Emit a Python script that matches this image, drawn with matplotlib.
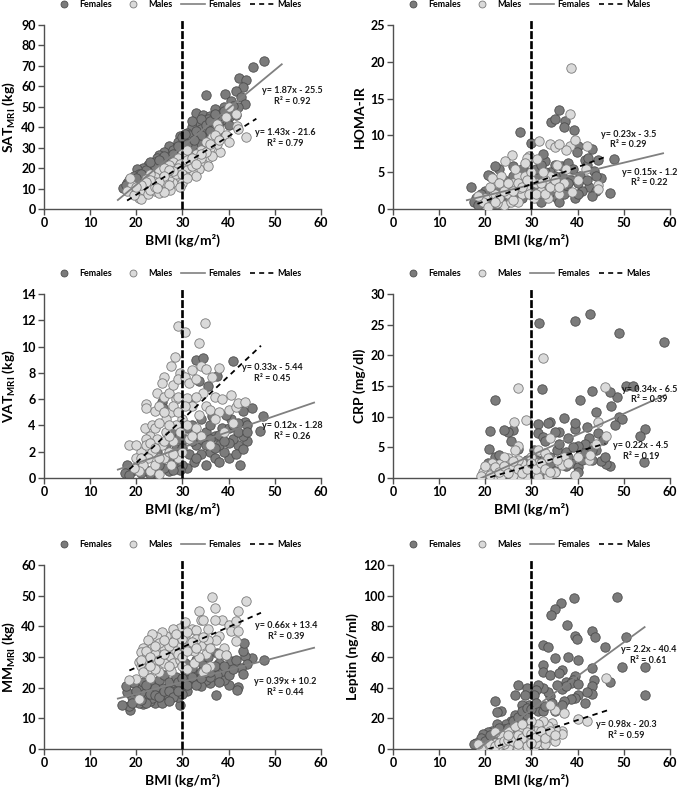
import numpy as np
import matplotlib
matplotlib.use("Agg")
import matplotlib.pyplot as plt
from matplotlib.lines import Line2D
from matplotlib.legend_handler import HandlerLine2D

plt.rcParams['font.family'] = ['Lato', 'DejaVu Sans']
plt.rcParams['font.weight'] = 'bold'
plt.rcParams['mathtext.fontset'] = 'custom'
plt.rcParams['mathtext.rm'] = 'Lato:bold'
plt.rcParams['mathtext.bf'] = 'Lato:bold'

# ---- data (BMI, value) ----
sat_f = [(47.7, 72.5), (45.2, 69.7), (42.3, 64.3), (43.7, 63), (43.2, 59.5), (35, 56), (39.3, 56.5), (41.5, 57.5),
         (42.7, 55), (40.5, 53), (43.5, 51.5), (42, 50), (39, 50), (37, 49), (33, 47), (34.5, 46), (36, 45.5),
         (38.5, 47), (40, 45), (41.5, 46), (35.5, 44), (33.5, 42), (32, 40), (34, 39), (36.5, 40), (38, 42),
         (39.5, 43.5), (37, 38), (35, 37), (31, 37), (29.5, 35.5), (33, 35), (31.5, 33), (30.5, 31), (28.5, 30.5),
         (27, 31), (32.5, 30), (34, 32.5), (36, 35.5), (29, 28), (27.5, 27), (26, 28), (25, 26.5), (24.5, 25),
         (26.5, 24.5), (28, 25), (23.5, 22), (22.5, 21.5), (21.5, 20), (20.2, 19.8), (22, 18), (23, 19), (24, 20),
         (25.5, 22), (20.5, 17), (19.5, 16), (18.5, 14), (18, 12.5), (17.2, 10.3), (19, 11), (21, 14.5), (17.8, 12),
         (19.8, 8), (26, 23), (30, 33), (31, 28), (33.5, 28), (35, 30.5), (37.5, 36), (40.5, 48), (36.5, 41),
         (38, 44), (34, 44), (31.5, 36), (28, 29), (29, 33), (32, 43), (30, 35), (27, 25.5), (24, 23),
         (30, 30), (31, 32), (29, 31), (28, 27), (26, 26), (24, 21), (22, 19), (21, 17), (20, 15), (23, 23),
         (25, 24), (33, 38), (34, 36), (35, 41), (36, 43), (38, 45.5), (37, 46.5), (39, 48), (41, 50.5), (40, 41),
         (36, 38), (32.5, 34), (30.5, 36.5)]
sat_m = [(43.7, 35.3), (41.7, 40.8), (42, 39), (41.5, 46.5), (40, 50), (39.5, 45), (37.5, 41.5), (38, 39),
         (39.5, 36), (36.5, 35), (38.2, 28), (40, 33), (35, 33), (37.5, 32), (36, 30), (34, 29), (33, 27), (35.5, 25),
         (34.5, 22), (35.5, 21), (33.5, 19.5), (32, 18.5), (31, 20), (30.5, 23.5), (32.5, 23), (34, 25), (31.5, 26),
         (30, 27), (29, 25), (28, 23), (28.5, 20), (27, 21.5), (26, 18), (25, 19), (25.5, 15), (24, 15.5), (23, 17),
         (22, 14.5), (23.5, 12), (22, 11), (21, 10), (20, 9.5), (21, 8), (20.5, 5.5), (21, 5), (22.5, 7.5), (24, 9),
         (25, 11), (26.5, 10), (27.3, 9.5), (28, 13), (29.5, 15.5), (29, 18), (27, 15), (26, 13), (24, 13), (19, 12),
         (18.7, 15), (18, 9), (19.5, 7), (30.5, 16), (32, 21), (33, 16), (30, 12.5), (36.5, 26), (35, 28), (22, 12),
         (26, 20), (27.5, 18), (29.5, 22), (31, 29), (23, 9.5), (25, 8), (28.5, 17),
         (29, 20), (28, 18.5), (27, 19), (26, 16), (25, 13), (24, 11), (23, 14), (22, 13), (21, 12), (20, 11),
         (31, 24), (32, 25), (33, 22), (34, 27), (30, 17), (31, 15), (29.5, 11), (27, 12), (26, 8.5), (24.5, 10.5),
         (36, 32), (37, 36), (38, 34)]

homa_f = [(27.6, 10.4), (30, 9.0), (34.2, 11.8), (35, 12.2), (36, 13.5), (37.2, 11.9), (37, 11.2), (39.2, 10.7),
          (40, 8.5), (39.8, 7.8), (41.5, 6.6), (43, 8.2), (47.8, 6.8), (46.9, 2.2), (45, 4.2), (43.5, 5.2), (42.5, 3.0),
          (44, 2.5), (39.5, 1.5), (38, 2.5), (36, 3.8), (35, 6), (34, 5), (33, 6.5), (32.5, 7.5), (31.5, 4.5), (30.5, 3),
          (32, 1), (34, 2), (36.5, 5.8), (38, 6.2), (40.5, 4.5), (41, 2.5), (42, 6), (37, 2), (33, 3), (31, 5.5), (29, 5),
          (28, 3.5), (27, 4), (26, 5.8), (25, 3), (24, 2), (23, 5.5), (22, 5.8), (21, 4.5), (20.5, 4.6), (20, 2.5),
          (19, 2), (18, 1.5), (17, 3), (17.5, 1), (18.5, 0.5), (21, 1), (22, 0.5), (23, 1.5), (25, 1), (26.5, 2),
          (28, 1.5), (29, 2.5), (24, 4), (21.5, 3), (38.5, 4), (44.5, 6.6), (35.5, 1.5), (39, 5.5), (42.2, 7),
          (36.6, 4.5), (43, 1.8), (37.5, 3.2), (40, 3.5),
          (30, 2), (31, 2.5), (33, 5), (35, 4.5), (36, 1), (38, 3.5), (40, 2), (42, 4), (44, 4.5), (32, 6),
          (34, 3.5), (20, 1), (23, 3), (26, 4.5), (28, 5.5)]
homa_m = [(38.5, 19.2), (38.3, 12.9), (38.3, 8.5), (37.5, 8.0), (34, 8.8), (35, 8.4), (36, 8.8), (31.7, 9.2),
          (29.5, 7.2), (29, 7.0), (25.7, 7.4), (24.3, 6.5), (28.5, 6.2), (39.5, 9.4), (42, 8.5), (41.7, 5.5),
          (44.5, 3.2), (44.5, 2.7), (40, 4), (37, 3.5), (35, 3), (34, 4.5), (33, 4), (32, 2.5), (31, 3.5), (30.5, 1.5),
          (29, 3), (28, 2), (27, 4.5), (26, 3.5), (25, 2), (24, 0.5), (23.5, 4.5), (22.5, 3.5), (22, 2), (21, 3),
          (20, 1.5), (19.5, 1), (18.5, 1.8), (20.5, 0.3), (22.5, 0.8), (25.5, 1), (27, 1), (28.5, 4.5), (30, 5),
          (32.5, 5), (36, 2), (37.5, 5.5), (38.8, 2.3), (33.5, 1.5), (31.3, 6.8), (26.5, 5.5), (24, 3), (35.5, 6),
          (29.5, 2), (23, 1.5), (21.5, 4.2), (27.5, 2.8), (26, 1.2),
          (30, 4), (31, 2), (32, 3.5), (33, 2), (34, 3), (35, 4), (36, 3), (22, 1), (23, 3.5), (24, 2.5),
          (25, 3.5), (26, 2.5), (27, 3.5), (28, 3), (29, 4)]

vat_f = [(33, 9.0), (34.5, 9.1), (41, 8.9), (37.5, 7.8), (35.5, 7.0), (33.5, 7.4), (25.5, 5.8), (25.8, 5.3),
         (47.5, 4.7), (46.8, 3.6), (45, 5.3), (43.5, 4.3), (43, 5.1), (42.5, 1.0), (35, 1.0), (44, 2.8), (43, 3.2),
         (42, 2.5), (41, 3.0), (40, 1.5), (39, 2.0), (38, 2.5), (37, 3.2), (36, 2.0), (35, 3.5), (34, 1.8), (33, 2.5),
         (32.5, 1.2), (31.5, 1.8), (31, 0.8), (30, 1.0), (29.5, 0.6), (28, 1.2), (27, 0.5), (26, 0.8), (25, 1.0),
         (24, 0.3), (23, 0.3), (22, 0.6), (21, 0.4), (20, 0.8), (19, 0.5), (18, 1.0), (17.5, 0.4), (18.5, 0.2),
         (26.5, 2.5), (27.5, 3.5), (28.5, 2.2), (30.5, 3.0), (32, 4.0), (34, 4.5), (36.5, 4.7), (38.5, 3.8),
         (40.5, 4.5), (41.5, 1.8), (39.5, 4.8), (44, 4.0), (29, 3.0), (24.5, 2.0), (31.5, 5.8), (37, 1.5), (42, 3.5),
         (40, 2.7), (33.5, 3.2), (38, 1.2), (36, 3.0),
         (30, 2.3), (31, 3.8), (32, 2.8), (33, 1.5), (34, 3.0), (35, 2.5), (36, 4.0), (37, 2.3), (38, 3.3),
         (39, 2.8), (40, 3.8), (41, 4.0), (42, 4.2), (43, 2.2), (44, 3.5), (29, 1.8), (27, 1.5), (28, 0.6)]
vat_m = [(29, 11.6), (30.5, 11.1), (34.8, 11.8), (33.5, 10.3), (28.3, 9.2), (29.5, 8.0), (27.5, 8.5), (26, 7.7),
         (25.5, 7.2), (24.5, 6.5), (22, 5.6), (22.2, 5.3), (18.5, 2.5), (21.8, 3.8), (23, 3.2), (24, 5.1), (25, 5.5),
         (26, 6.2), (27, 6.5), (28, 7.1), (29, 7.5), (30.5, 7.7), (31.5, 7.2), (32, 8.2), (33, 7.5), (34, 8.5),
         (35.2, 8.3), (36.5, 7.7), (38, 8.4), (37, 6.2), (34.5, 6.5), (35, 5.5), (33.5, 4.8), (32, 5.5), (31, 6.1),
         (36, 5.2), (38, 5.0), (40, 5.2), (40.5, 6.3), (41.5, 5.4), (42, 5.7), (43.5, 5.8), (41, 4.2), (39, 3.5),
         (37, 4.5), (33, 3.8), (31.5, 3.0), (30, 4.5), (28.5, 4.0), (27.5, 5.0), (26.5, 3.5), (25.5, 2.5), (24.5, 3.0),
         (23.5, 2.0), (22.5, 1.5), (21.5, 1.0), (20.5, 0.5), (19.5, 0.8), (21, 2.0), (20, 1.5), (23, 0.5), (24, 1.0),
         (25, 0.3), (26, 1.5), (27, 2.0), (28, 2.8), (29, 1.5), (29.5, 3.5), (30, 2.0), (27.5, 1.0), (26.5, 4.5),
         (23.5, 4.0), (22, 3.0), (34, 3.2), (36, 2.5), (38.5, 6.0), (28.5, 6.0), (30.5, 5.5),
         (22, 2.5), (23, 2.7), (24, 3.8), (25, 4.2), (26, 5.0), (27, 4.0), (28, 5.5), (29, 6.2), (25, 1.5),
         (26, 2.8), (27, 3.2), (28, 1.8), (29, 5.0), (24, 2.3), (21, 1.5), (20, 2.5), (31, 4.0), (32, 3.2), (33, 6.2)]

crp_f = [(22.2, 12.8), (31.7, 25.3), (32.3, 14.5), (39.5, 25.6), (42.7, 26.7), (48.9, 23.7), (58.8, 22.1),
         (50.5, 15.0), (52, 15.0), (48.5, 13.2), (47, 14.0), (47.2, 11.8), (43, 14.2), (44, 10.8), (40.5, 12.8),
         (49, 10.0), (49.7, 9.7), (48, 8.7), (54.5, 8.0), (53.5, 6.8), (54.3, 2.6), (47, 2.0), (46.2, 2.3), (45, 2.8),
         (44.5, 7.4), (45.5, 6.2), (42, 8.3), (42.5, 6.5), (41.5, 5.5), (40, 5.3), (39.5, 8.0), (39.5, 9.0), (37, 9.8),
         (36, 7.5), (35, 7.5), (34, 9.1), (33.5, 9.0), (31.5, 8.8), (31.5, 7.3), (32.5, 6.7), (33, 6.0), (35.5, 4.5),
         (37.5, 4.3), (38.5, 2.5), (40, 1.8), (40, 1.0), (41, 2.9), (43, 3.0), (36.5, 2.5), (34, 2.0), (32.5, 3.0),
         (30.5, 4.5), (29, 3.0), (27, 4.8), (26, 7.8), (25, 7.5), (25.5, 6.0), (24, 7.8), (21, 7.6), (20.8, 4.8),
         (22, 3.5), (23, 3.7), (24.5, 2.5), (20, 1.5), (19.5, 0.5), (21, 0.8), (22.5, 1.5), (25, 0.5), (27.5, 1.2),
         (28.5, 0.3), (30.5, 0.5), (33, 0.8), (35, 1.2), (41.5, 4.0), (38, 6.5), (37.5, 2.0), (44, 4.5), (46, 3.5),
         (20.5, 2.5), (22, 0.8), (23.5, 1.8), (26, 2), (28, 2), (30, 1.5), (31, 3), (34, 3.5), (36, 5.5),
         (38, 3.5), (39, 5), (43, 4.5)]
crp_m = [(27, 14.6), (32.4, 19.6), (46, 14.9), (44.5, 9.2), (46.2, 6.9), (44, 5.5), (42.5, 3.0), (42.7, 3.8),
         (39.5, 0.5), (26.2, 9.2), (28.8, 9.4), (27, 5.2), (26.5, 4.6), (31.5, 4.5), (33, 4.0), (33.5, 3.2), (34, 6.5),
         (37, 3.5), (36.5, 2.2), (35, 1.0), (33.5, 0.3), (32, 1.5), (31, 2.5), (30, 3.5), (29.5, 2.0), (28.5, 1.2),
         (28, 2.5), (27.5, 0.5), (26.5, 1.5), (25.5, 2.0), (25, 3.3), (24.5, 1.0), (24, 3.5), (23, 2.3), (22.5, 1.2),
         (22, 0.5), (21.5, 2.5), (21, 1.5), (20.5, 0.8), (19.5, 1.0), (19, 0.3), (20, 2.0), (23.5, 0.3), (26, 0.5),
         (29, 0.5), (30.5, 1.0), (31.5, 0.2), (27, 3.0), (35.5, 3.0), (38, 2.5), (40, 3.5),
         (21, 0.5), (22, 1.8), (23, 1), (24, 2), (25, 0.8), (26, 2.7), (27, 1.5), (28, 0.8), (29, 1.5),
         (30, 2.5), (31, 1.5), (32, 2.5), (33, 1.5), (34, 1)]

mm_f = [(47.7, 29.1), (45, 29.7), (43.5, 30.3), (43, 31.8), (43.3, 34.7), (44, 27.7), (42.7, 26.5), (43, 24.5),
        (42, 20.3), (41.8, 19.4), (40, 21), (39, 22.5), (38.5, 25.5), (40.5, 28.8), (41.5, 29), (39.5, 30.5),
        (37.5, 31.2), (38, 28), (37.2, 17.5), (36, 21.5), (35, 22.5), (34, 20.5), (33, 24), (32.5, 21.5), (31.5, 23),
        (30.5, 25.5), (30.5, 28), (33, 29), (34.5, 27.5), (35.5, 30), (36.5, 26), (37.5, 24), (29.5, 14.5), (29, 17),
        (28, 19.5), (27.5, 21.5), (26.5, 18), (26, 16), (25.5, 20), (25, 22.5), (24.5, 17), (24, 15), (23, 15.5),
        (22.5, 19), (22, 17), (21.5, 14.8), (21, 18.5), (20.5, 20.5), (20, 16.5), (19, 17), (18.7, 12.8), (18.5, 14),
        (17, 14.3), (18, 18.5), (17.8, 20.5), (19.5, 21.5), (23, 21.5), (24, 20), (26, 24), (27, 22), (28.5, 23.5),
        (30, 20.5), (31, 19), (32, 26.5), (34, 25), (36, 23.5), (29, 22), (20.5, 15), (23.5, 16.5), (25.5, 15),
        (27, 17), (21.5, 22), (30, 18),
        (22, 15), (23, 18), (24, 17.5), (25, 17), (26, 19), (27, 19), (28, 17), (29, 19), (30, 23), (31, 21),
        (32, 23.5), (33, 21), (34, 23), (35, 25), (36, 25), (37, 27), (38, 22), (39, 27), (40, 24), (41, 26),
        (19, 15), (20, 19), (21, 16), (22, 21), (27, 15.5)]
mm_m = [(36.5, 49.5), (43.7, 48.1), (37, 46), (33.5, 45), (42, 45), (34, 42), (34.5, 42.2), (38.5, 42), (37, 42.2),
        (29.5, 39.5), (30.5, 41.5), (28, 39), (32, 39), (33, 38.8), (35.5, 39), (40, 40.5), (40.5, 38.5), (42, 38.5),
        (41.5, 41.7), (38, 37), (37.3, 35.5), (41.5, 35.3), (39, 33), (38, 31), (39.5, 30.5), (35, 31), (34, 34),
        (35.5, 35.5), (33, 36), (31.5, 35), (30.5, 33), (29, 34), (27.5, 35), (26.5, 37), (25.5, 38), (24.5, 36.5),
        (23.5, 37.5), (22.5, 35.5), (21.5, 33), (21, 31.5), (22, 30), (20.5, 28.5), (21, 27), (22.5, 26), (21.5, 25),
        (20, 22.8), (18.5, 22.5), (20.5, 16.2), (23, 23), (24, 28), (25, 31), (26, 33), (27, 30), (28, 28), (28.5, 32),
        (29.5, 29), (30, 27), (31, 26), (32.5, 28), (33.5, 30), (34.5, 25), (36, 27), (35, 26.5), (27.5, 25.5),
        (25, 25), (26, 28), (23.5, 33), (24, 31), (30, 36), (31, 38), (32.5, 32), (22.5, 29), (27, 33.5), (25, 34.5),
        (22, 32), (23, 30), (24, 33.5), (25, 29), (26, 31), (27, 27), (28, 35), (29, 31), (30, 30), (31, 32),
        (32, 35), (33, 33), (24, 26), (23, 27), (26, 35.5), (28.5, 37.5), (21, 29), (34.5, 36.5), (36, 33)]

lep_f = [(48.5, 99), (39.2, 98.5), (36.3, 95.5), (35, 91.5), (34.2, 87.3), (37.7, 81), (39.5, 74), (39.8, 71.5),
         (43, 77), (43.7, 73), (46, 66.5), (50.5, 73), (49.5, 53.5), (54.5, 53.5), (54.5, 35), (47, 43.5), (43, 53),
         (43.5, 45), (43, 41), (43, 36), (41.5, 30), (40, 58), (39.5, 47.5), (39, 45), (38, 60), (36.5, 51.5),
         (35, 59.5), (32.5, 68), (33.5, 66.5), (32.5, 54.5), (32.5, 50.5), (34, 48), (36, 49.5), (37.5, 43.5),
         (38.5, 43), (40, 42.5), (40, 35.5), (39.5, 33), (38.5, 32.5), (37, 31), (36.5, 28.5), (35, 25), (34, 34.5),
         (33.5, 37.5), (32.5, 40), (31.5, 41.5), (31, 38.5), (30.5, 35.5), (31.5, 25), (32.5, 24.5), (29, 39.5),
         (28.5, 35.5), (29.5, 29), (28, 28.5), (27, 42), (26.5, 35.5), (26.5, 22), (25.5, 18), (24.5, 16.5), (23.5, 25),
         (22.5, 24), (22, 31.5), (22.5, 16), (21.5, 12), (20.5, 11), (20.5, 8), (19.5, 9.5), (19, 7), (18, 4),
         (17.5, 3.5), (21, 5), (23, 10), (24, 13), (25, 10), (26, 13), (27, 16.5), (28, 20.5), (29, 22), (30, 16),
         (28.5, 13), (36.5, 39), (34.5, 30), (42, 37), (37.5, 41), (35.5, 42),
         (22, 8), (23, 14), (24, 10), (25, 14), (26, 18), (27, 21), (28, 25), (29, 27), (30, 26), (31, 30),
         (33, 28), (20, 5), (21, 9)]
lep_m = [(46.2, 46.5), (37, 23.5), (40, 19.5), (42, 18.5), (36.5, 11.5), (36.7, 9.5), (35, 25.5), (34, 28.5),
         (34.5, 17), (35, 13), (33.5, 15), (33, 10), (32.5, 18.5), (31.5, 16), (31, 12), (30.5, 7), (32, 6), (34, 8),
         (35, 5), (30, 18.5), (29.5, 13), (29, 8), (28.5, 5), (28, 10), (27.5, 14), (27, 6), (26.5, 2.5), (26, 8),
         (25.5, 4), (25, 1.5), (24.5, 7), (24, 3), (23.5, 5.5), (23, 2), (22.5, 0.5), (22, 4), (21.5, 1.5), (21, 0.3),
         (20.5, 2.5), (20, 0.5), (19.5, 1), (19, 0.3), (18.5, 3), (29, 2), (30.5, 1.5), (27, 0.5), (33, 3.5), (31, 4),
         (25, 12), (26.5, 15), (28, 16.5), (23.5, 9), (22, 11),
         (21, 3), (22, 2), (23, 4), (24, 5), (25, 6), (26, 5), (27, 9), (28, 7), (29, 11), (30, 10), (31, 8),
         (32, 12), (33, 7), (34, 12), (35, 9), (30, 4), (27, 3), (25, 9)]

# trendlines: slope, intercept, x range
fits_f = [(1.87, -25.5, 16, 51.5), (0.15, -1.2, 16, 58.5), (0.12, -1.28, 16, 58.5),
          (0.34, -6.5, 19.1, 59), (0.39, 10.2, 16, 58.5), (2.2, -40.4, 18.4, 54.5)]
fits_m = [(1.43, -21.6, 18, 46), (0.23, -3.5, 18.3, 46), (0.33, -5.44, 18.5, 47),
          (0.22, -4.5, 19, 46), (0.66, 13.4, 18.5, 47), (0.98, -20.3, 20.7, 46.5)]
r2_f = ['0.92', '0.22', '0.26', '0.39', '0.44', '0.61']
r2_m = ['0.79', '0.29', '0.45', '0.19', '0.39', '0.59']

ylabels = ['SAT$_{\\rm MRI}$ (kg)', 'HOMA-IR', 'VAT$_{\\rm MRI}$ (kg)', 'CRP (mg/dl)',
           'MM$_{\\rm MRI}$ (kg)', 'Leptin (ng/ml)']
ymax = [90, 25, 14, 30, 60, 120]
ystep = [10, 5, 2, 5, 10, 20]
females = [sat_f, homa_f, vat_f, crp_f, mm_f, lep_f]
males = [sat_m, homa_m, vat_m, crp_m, mm_m, lep_m]

# where the equations sit (data coords)
eq_pos_f = [(53.7, 55.3), (55.5, 4.3), (53.7, 3.6), (55.5, 13.6), (52.2, 20.2), (55.3, 61.3)]
eq_pos_m = [(52.2, 34.6), (51.0, 9.45), (49.5, 8.0), (53.7, 4.4), (52.5, 38.4), (50.6, 12.5)]


def eq_text(a, b, r2):
    sign = '+' if b >= 0 else '-'
    return 'y= %gx %s %g\nR\u00b2 = %s' % (a, sign, abs(b), r2)


class MarkerRight(HandlerLine2D):
    # put the circle next to its label, as Excel does
    def get_xdata(self, legend, xdescent, ydescent, width, height, fontsize):
        xd, _ = super().get_xdata(legend, xdescent, ydescent, width, height, fontsize)
        return xd, np.array([width - xdescent - 0.3 * fontsize])


fig = plt.figure(figsize=(6.85, 7.9), dpi=100)
lefts = [0.0642, 0.5737]
bottoms = [0.7354, 0.3949, 0.0519]
fcol, fedge = '#7b7b7b', '#4d4d4d'
mcol, medge = '#dadada', '#7a7a7a'

for i in range(6):
    ax = fig.add_axes([lefts[i % 2], bottoms[i // 2], 0.4044, 0.2329])
    f = np.array(females[i])
    m = np.array(males[i])
    ax.scatter(f[:, 0], f[:, 1], s=46, c=fcol, edgecolors=fedge, linewidths=0.6, zorder=2)
    ax.scatter(m[:, 0], m[:, 1], s=46, c=mcol, edgecolors=medge, linewidths=0.6, zorder=3)

    a, b, x0, x1 = fits_f[i]
    xs = np.array([x0, x1])
    ax.plot(xs, a * xs + b, color='#808080', lw=1.3, zorder=4)
    a2, b2, x2, x3 = fits_m[i]
    xs2 = np.array([x2, x3])
    ax.plot(xs2, a2 * xs2 + b2, color='black', lw=1.3, dashes=(3, 2.5), zorder=4)

    ax.plot([30, 30], [0, ymax[i] * 1.025], color='black', lw=1.9, dashes=(3, 0.8),
            zorder=5, clip_on=False)

    ax.text(*eq_pos_f[i], eq_text(a, b, r2_f[i]), fontsize=6.5, ha='center', va='center',
            fontweight='bold', color='#1a1a1a', linespacing=1.25, zorder=6)
    ax.text(*eq_pos_m[i], eq_text(a2, b2, r2_m[i]), fontsize=6.5, ha='center', va='center',
            fontweight='bold', color='#1a1a1a', linespacing=1.25, zorder=6)

    ax.set_xlim(0, 60)
    ax.set_ylim(0, ymax[i])
    ax.set_xticks(range(0, 61, 10))
    ax.set_yticks(np.arange(0, ymax[i] + 0.1, ystep[i]))
    for s in ['top', 'right']:
        ax.spines[s].set_visible(False)
    for s in ['left', 'bottom']:
        ax.spines[s].set_color('#505050')
        ax.spines[s].set_linewidth(1.0)
    ax.tick_params(direction='out', length=4, width=1, color='#505050', labelsize=9, pad=2)
    for lab in ax.get_xticklabels() + ax.get_yticklabels():
        lab.set_fontweight('bold')
    ax.set_xlabel('BMI (kg/m\u00b2)', fontsize=10, fontweight='bold', labelpad=3)
    ax.set_ylabel(ylabels[i], fontsize=10, fontweight='bold', labelpad=3)

    h_f = Line2D([], [], ls='none', marker='o', ms=5, mfc=fcol, mec=fedge, mew=0.6)
    h_m = Line2D([], [], ls='none', marker='o', ms=5, mfc=mcol, mec=medge, mew=0.6)
    handles = [h_f, h_m,
               Line2D([], [], color='#808080', lw=1.2),
               Line2D([], [], color='black', lw=1.2, dashes=(3, 2.5))]
    ax.legend(handles, ['Females', 'Males', 'Females', 'Males'], loc='center', ncol=4,
              bbox_to_anchor=(0.48, 1.11), frameon=False, prop={'size': 6.5, 'weight': 'bold'},
              handlelength=2.6, handletextpad=0.4, columnspacing=1.0, borderaxespad=0,
              handler_map={h_f: MarkerRight(), h_m: MarkerRight()})

fig.savefig('out.png', dpi=100)
